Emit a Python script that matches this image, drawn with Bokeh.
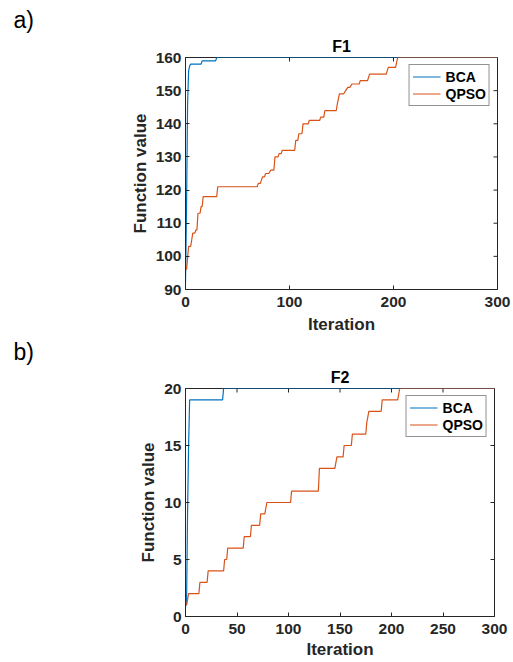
import math
from bokeh.plotting import figure
from bokeh.models import Range1d, FixedTicker, Title, Legend, LegendItem
from bokeh.layouts import column
from bokeh.embed import file_html
from bokeh.resources import INLINE

# ---------------- data ----------------
# F1
f1_bca_iter = [0, 1, 2, 3, 4, 5, 15, 16, 29, 30, 300]
f1_bca_val = [92, 115, 146, 156, 157.5, 158, 158, 159, 159, 160, 160]

f1_qpso_iter = [1, 3, 5, 7, 9, 10, 11, 12, 14, 15, 16, 17, 30, 31, 69, 70, 72, 73, 74, 76,
                77, 80, 82, 85, 86, 89, 90, 92, 93, 96, 105, 106, 108, 109, 112, 113, 118,
                119, 129, 130, 133, 134, 145, 146, 148, 152, 154, 156, 158, 160, 167, 168,
                175, 177, 193, 195, 202, 204, 300]
f1_qpso_val = [96, 103, 103, 107, 107, 108, 108, 113, 113, 115, 115, 118, 118, 121, 121, 122,
               122, 123, 124, 124, 125, 125, 126, 126, 130, 130, 131, 131, 132, 132, 132, 135,
               135, 137, 137, 140, 140, 141, 141, 142, 142, 144, 144, 146, 149, 149, 150, 151,
               151, 152, 152, 153, 153, 155, 155, 157, 157, 160, 160]

# F2
f2_bca_iter = [0, 1, 2, 3, 4, 36, 37, 300]
f2_bca_val = [1, 1, 9, 15, 19, 19, 20, 20]

f2_qpso_iter = [1, 3, 13, 14, 21, 22, 37, 38, 40, 41, 56, 57, 63, 64, 72, 73, 77, 79, 102,
                103, 129, 130, 145, 147, 153, 154, 161, 162, 175, 176, 178, 190, 191, 206,
                208, 300]
f2_qpso_val = [1, 2, 2, 3, 3, 4, 4, 5, 5, 6, 6, 7, 7, 8, 8, 9, 9, 10, 10, 11, 11, 13, 13, 14,
               14, 15, 15, 16, 16, 17, 18, 18, 19, 19, 20, 20]

f1_xticks = [0, 100, 200, 300]
f1_yticks = [90, 100, 110, 120, 130, 140, 150, 160]
f2_xticks = [0, 50, 100, 150, 200, 250, 300]
f2_yticks = [0, 5, 10, 15, 20]

series_names = ["BCA", "QPSO"]
titles = ["F1", "F2"]
panel_labels = ["a)", "b)"]

# ---------------- style ----------------
FONT = "Liberation Sans"
BLUE = "#0072BD"
ORANGE = "#D95319"
AX = "#262626"


def style_axis(ax, ticks, label_standoff, title_standoff):
    ax.ticker = FixedTicker(ticks=ticks)
    ax.axis_line_color = AX
    ax.axis_line_width = 1
    ax.major_tick_line_color = AX
    ax.major_tick_in = 4
    ax.major_tick_out = 0
    ax.minor_tick_line_color = None
    ax.major_label_text_font = FONT
    ax.major_label_text_font_style = "bold"
    ax.major_label_text_color = AX
    ax.major_label_text_font_size = "15.5px"
    ax.major_label_standoff = label_standoff
    ax.axis_label_text_font = FONT
    ax.axis_label_text_font_style = "bold"
    ax.axis_label_text_font_size = "17px"
    ax.axis_label_text_color = AX
    ax.axis_label_standoff = title_standoff


def make_panel(title, plabel, title_standoff, plabel_standoff, xlabel_standoff,
               xticks, yticks, ylim, bca, qpso, frame_w, frame_h, top, bottom, right):
    p = figure(frame_width=frame_w, frame_height=frame_h,
               x_range=Range1d(0, 300), y_range=Range1d(*ylim),
               output_backend="svg", toolbar_location=None,
               min_border_left=185, min_border_right=right,
               min_border_top=top, min_border_bottom=bottom,
               x_axis_label="Iteration", y_axis_label="Function value")
    p.background_fill_color = "white"
    p.border_fill_color = "white"
    p.outline_line_color = AX
    p.xgrid.visible = False
    p.ygrid.visible = False

    style_axis(p.xaxis[0], xticks, 7, xlabel_standoff)
    style_axis(p.yaxis[0], yticks, 4, 3)

    # box ticks on top and right edges (MATLAB "box on" look)
    p.ray(x=xticks, y=[ylim[1]] * len(xticks), length=4, length_units="screen",
          angle=-math.pi / 2, line_color=AX, line_width=1)
    p.ray(x=[300] * len(yticks), y=yticks, length=4, length_units="screen",
          angle=math.pi, line_color=AX, line_width=1)

    # outer title: panel label "a)" / "b)" at the far left
    p.title.text = plabel
    p.title.align = "left"
    p.title.offset = -172
    p.title.text_font = FONT
    p.title.text_font_style = "normal"
    p.title.text_font_size = "23px"
    p.title.text_color = "black"
    p.title.standoff = plabel_standoff

    # inner title: chart name, centred over the frame
    p.add_layout(Title(text=title, align="center", text_font=FONT,
                       text_font_size="16px", text_font_style="bold",
                       text_color="black", standoff=title_standoff), "above")

    r1 = p.line(bca[0], bca[1], line_color=BLUE, line_width=1.2)
    r2 = p.line(qpso[0], qpso[1], line_color=ORANGE, line_width=1.2)

    leg = Legend(items=[LegendItem(label=series_names[0], renderers=[r1]),
                        LegendItem(label=series_names[1], renderers=[r2])],
                 location="top_right")
    leg.margin = 7
    leg.padding = 3
    leg.spacing = 0
    leg.glyph_width = 28
    leg.glyph_height = 17
    leg.label_height = 17
    leg.label_standoff = 5
    leg.label_text_font = FONT
    leg.label_text_font_style = "bold"
    leg.label_text_font_size = "14px"
    leg.label_text_color = "black"
    leg.border_line_color = AX
    leg.border_line_width = 1
    leg.background_fill_color = "white"
    leg.background_fill_alpha = 1
    p.add_layout(leg)
    return p


p1 = make_panel(titles[0], panel_labels[0], 6, 0, 5, f1_xticks, f1_yticks, (90, 160),
                (f1_bca_iter, f1_bca_val), (f1_qpso_iter, f1_qpso_val),
                312, 232, 57, 47, 16)
p2 = make_panel(titles[1], panel_labels[1], 5, 0, 3, f2_xticks, f2_yticks, (0, 20),
                (f2_bca_iter, f2_bca_val), (f2_qpso_iter, f2_qpso_val),
                309, 228, 52, 45, 19)

layout = column(p1, p2, spacing=0)
open("out.html", "w").write(file_html(layout, INLINE))
